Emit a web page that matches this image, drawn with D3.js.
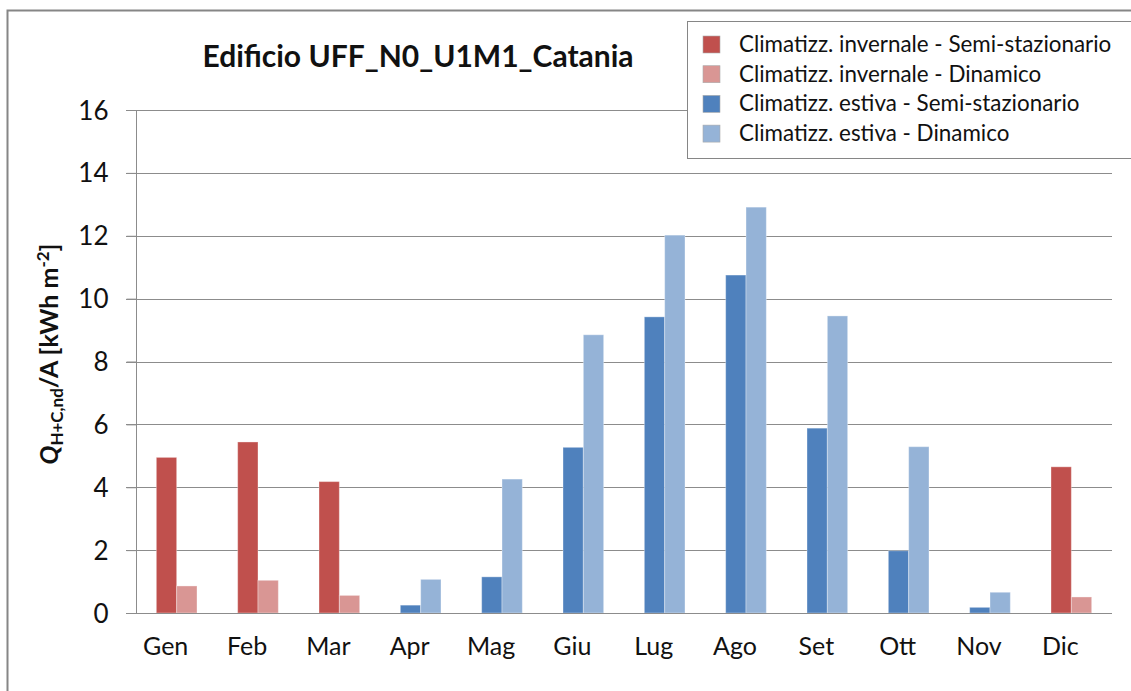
<!DOCTYPE html>
<head>
    <meta charset="utf-8">
    <script src="https://d3js.org/d3.v7.min.js"></script>
    <style>
        body { margin: 0; background: #fff; }
        text { font-family: Lato, "Open Sans", sans-serif; fill: #111; }
    </style>
</head>
<body>
<script>
    const months = ['Gen', 'Feb', 'Mar', 'Apr', 'Mag', 'Giu', 'Lug', 'Ago', 'Set', 'Ott', 'Nov', 'Dic'];
    const invernaleSemi = [4.95, 5.44, 4.18, 0, 0, 0, 0, 0, 0, 0, 0, 4.65];
    const invernaleDin = [0.86, 1.04, 0.56, 0, 0, 0, 0, 0, 0, 0, 0, 0.51];
    const estivaSemi = [0, 0, 0, 0.25, 1.15, 5.27, 9.42, 10.75, 5.88, 1.98, 0.18, 0];
    const estivaDin = [0, 0, 0, 1.07, 4.26, 8.85, 12.02, 12.91, 9.45, 5.29, 0.66, 0];
    const yTicks = [0, 2, 4, 6, 8, 10, 12, 14, 16];

    const series = [
        { name: 'Climatizz. invernale - Semi-stazionario', slot: 'semi', color: '#C0504D', values: invernaleSemi },
        { name: 'Climatizz. invernale - Dinamico', slot: 'din', color: '#D99694', values: invernaleDin },
        { name: 'Climatizz. estiva - Semi-stazionario', slot: 'semi', color: '#4F81BD', values: estivaSemi },
        { name: 'Climatizz. estiva - Dinamico', slot: 'din', color: '#95B3D7', values: estivaDin }
    ];

    const width = 1131, height = 691;
    const plotLeft = 136, plotRight = 1112, plotTop = 110, plotBottom = 613;

    const svg = d3.select('body').append('svg')
        .attr('width', width).attr('height', height);

    // chart frame
    svg.append('path')
        .attr('d', `M7.5,${height} V10.5 H${width}`)
        .attr('fill', 'none').attr('stroke', '#868686').attr('stroke-width', 2);

    const x = d3.scaleBand().domain(months).range([plotLeft, plotRight])
        .paddingInner(0.5).paddingOuter(0.25);
    const xs = d3.scaleBand().domain(['semi', 'din']).range([0, x.bandwidth()]);
    const y = d3.scaleLinear().domain([0, 16]).range([plotBottom, plotTop]);

    // gridlines
    svg.append('g').selectAll('line').data(yTicks.filter(d => d > 0)).join('line')
        .attr('x1', plotLeft - 10).attr('x2', plotRight)
        .attr('y1', d => Math.round(y(d)) + 0.5).attr('y2', d => Math.round(y(d)) + 0.5)
        .attr('stroke', '#8c8c8c').attr('stroke-width', 1);

    // bars
    series.forEach(s => {
        svg.append('g').selectAll('rect')
            .data(s.values.map((v, i) => ({ m: months[i], v })).filter(d => d.v > 0))
            .join('rect')
            .attr('x', d => x(d.m) + xs(s.slot))
            .attr('width', xs.bandwidth())
            .attr('y', d => y(d.v))
            .attr('height', d => y(0) - y(d.v))
            .attr('fill', s.color)
            .attr('stroke', 'rgba(255,255,255,0.35)').attr('stroke-width', 1);
    });

    // axes
    const yAxis = svg.append('g').attr('transform', `translate(${plotLeft + 0.5},0)`)
        .call(d3.axisLeft(y).tickValues(yTicks).tickSize(10).tickPadding(18));
    yAxis.select('.domain').attr('stroke', '#8c8c8c').attr('d', `M0,${plotTop}V${plotBottom}`);
    yAxis.selectAll('.tick line').attr('stroke', '#8c8c8c');
    yAxis.selectAll('.tick text').attr('font-size', 26).attr('fill', '#111')
        .attr('font-family', 'Lato, sans-serif').attr('dy', '0.35em');

    const xAxis = svg.append('g').attr('transform', `translate(0,${plotBottom + 0.5})`)
        .call(d3.axisBottom(x).tickSize(0).tickPadding(24));
    xAxis.select('.domain').attr('stroke', '#8c8c8c').attr('d', `M${plotLeft - 10},0H${plotRight}`);
    xAxis.selectAll('.tick text').attr('font-size', 25).attr('fill', '#111')
        .attr('font-family', 'Lato, sans-serif').attr('dy', '0.71em').attr('dx', -11);

    // title
    svg.append('text')
        .attr('x', 418).attr('y', 67)
        .attr('text-anchor', 'middle')
        .attr('font-size', 30).attr('font-weight', 'bold')
        .text('Edificio UFF_N0_U1M1_Catania');

    // y axis title
    const yt = svg.append('text')
        .attr('transform', 'translate(58,354) rotate(-90)')
        .attr('text-anchor', 'middle')
        .attr('font-size', 25).attr('font-weight', 'bold');
    yt.append('tspan').attr('font-style', 'italic').text('Q');
    yt.append('tspan').attr('font-size', 17).attr('dy', 5).text('H+C,nd');
    yt.append('tspan').attr('dy', -5).text('/A [kWh m');
    yt.append('tspan').attr('font-size', 17).attr('dy', -9).text('-2');
    yt.append('tspan').attr('dy', 9).text(']');

    // legend
    const lg = svg.append('g');
    lg.append('rect')
        .attr('x', 687.5).attr('y', 21.5).attr('width', 460).attr('height', 137)
        .attr('fill', '#fff').attr('stroke', '#868686').attr('stroke-width', 1);
    const row = lg.selectAll('g.row').data(series).join('g')
        .attr('class', 'row')
        .attr('transform', (d, i) => `translate(703,${44 + i * 29.7})`);
    row.append('rect')
        .attr('x', 0).attr('y', -8).attr('width', 17).attr('height', 17)
        .attr('fill', d => d.color).attr('stroke', '#aaa').attr('stroke-width', 0.6);
    row.append('text')
        .attr('x', 36).attr('dy', '0.35em')
        .attr('font-size', 22.4).attr('fill', '#222')
        .text(d => d.name);
</script>
</body>
